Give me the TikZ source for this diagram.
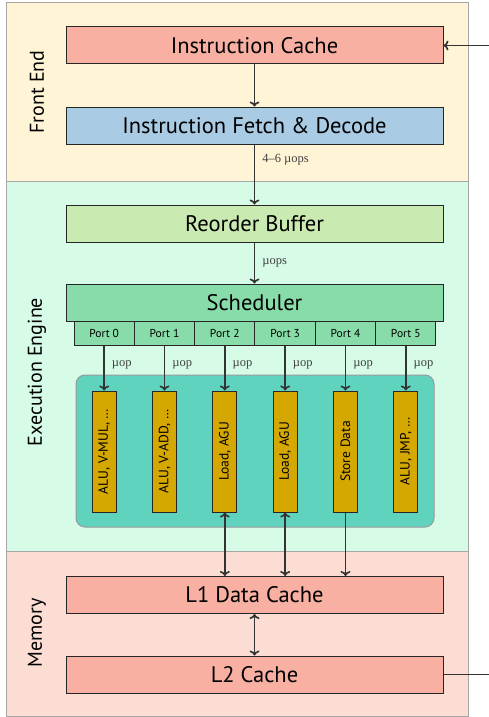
\documentclass[tikz,border=0pt]{standalone}
\usepackage{fontspec}
\setmainfont{PT Sans}
\newfontfamily\labfont{Liberation Serif}
\usetikzlibrary{arrows.meta}
\definecolor{bandFE}{HTML}{FFF5D6}
\definecolor{bandEX}{HTML}{D6FCE8}
\definecolor{bandMEM}{HTML}{FCDDD3}
\definecolor{cacheC}{HTML}{F8B0A3}
\definecolor{fetchC}{HTML}{A9CBE3}
\definecolor{robC}{HTML}{C9EAB0}
\definecolor{schedC}{HTML}{88DCA9}
\definecolor{clusterC}{HTML}{5FD3BE}
\definecolor{unitC}{HTML}{D4A800}
\definecolor{lineC}{HTML}{333333}
\tikzset{
  band/.style={draw=black!35, line width=1pt},
  bigbox/.style={draw=black!85, line width=1pt, minimum width=377pt, minimum height=37pt, inner sep=0pt, font=\fontsize{22.5}{25}\selectfont},
  portbox/.style={draw=black!85, line width=1pt, fill=schedC, minimum width=60.33pt, minimum height=24pt, inner sep=0pt, font=\fontsize{11.5}{13}\selectfont},
  unitbox/.style={draw=black!85, line width=1pt, fill=unitC, minimum width=24pt, minimum height=121pt, inner sep=0pt},
  unitlab/.style={rotate=90, font=\fontsize{13.5}{15}\selectfont},
  bandlab/.style={rotate=90, font=\fontsize{20}{23}\selectfont},
  conn/.style={draw=lineC, line width=1.6pt, -{To[length=5pt,width=10pt]}},
  biconn/.style={draw=lineC, line width=1.6pt, {To[length=5pt,width=10pt]}-{To[length=5pt,width=10pt]}},
  plain/.style={draw=lineC, line width=1.6pt},
  lab/.style={font=\labfont\fontsize{12.5}{14}\selectfont, text=black!75, anchor=west, inner sep=0pt, xshift=7pt},
}
\begin{document}
\begin{tikzpicture}[x=1pt,y=-1pt]
\useasboundingbox (0,0) rectangle (489,717);
% bands
\fill[bandFE] (6,3) rectangle (468,181);
\draw[band] (6,3) rectangle (468,181);
\fill[bandEX] (6,181) rectangle (468,551);
\draw[band] (6,181) rectangle (468,551);
\fill[bandMEM] (6,551) rectangle (468,716);
\draw[band] (6,551) rectangle (468,716);
\node[bandlab] (lfe) at (37,92) {Front End};
\node[bandlab] (lex) at (37,372) {Execution Engine};
\node[bandlab] (lmem) at (37,633) {Memory};
% front end
\node[bigbox, fill=cacheC] (ic) at (254.5,45.5) {Instruction Cache};
\node[bigbox, fill=fetchC] (ifd) at (254.5,125.5) {Instruction Fetch \& Decode};
% execution
\node[bigbox, fill=robC] (rob) at (254.5,223.5) {Reorder Buffer};
\node[bigbox, fill=schedC] (sch) at (254.5,302.5) {Scheduler};
\foreach \i in {0,...,5} {
  \node[portbox] (p\i) at ({74+30.17+60.33*\i},333) {Port \i};
}
\draw[draw=black!40, line width=1pt, fill=clusterC, rounded corners=9pt] (76,375) rectangle (434,527);
\node[unitbox] (u0) at ({74+30.17},451.5) {}; \node[unitlab] at (u0) {ALU, V-MUL, \dots};
\node[unitbox] (u1) at ({74+30.17+60.33},451.5) {}; \node[unitlab] at (u1) {ALU, V-ADD, \dots};
\node[unitbox] (u2) at ({74+30.17+60.33*2},451.5) {}; \node[unitlab] at (u2) {Load, AGU};
\node[unitbox] (u3) at ({74+30.17+60.33*3},451.5) {}; \node[unitlab] at (u3) {Load, AGU};
\node[unitbox] (u4) at ({74+30.17+60.33*4},451.5) {}; \node[unitlab] at (u4) {Store Data};
\node[unitbox] (u5) at ({74+30.17+60.33*5},451.5) {}; \node[unitlab] at (u5) {ALU, JMP, \dots};
% memory
\node[bigbox, fill=cacheC] (l1) at (254.5,595) {L1 Data Cache};
\node[bigbox, fill=cacheC] (l2) at (254.5,674.5) {L2 Cache};
% connectors
\coordinate (extin) at (489,45.5);
\coordinate (extout) at (489,674.5);
\draw[conn] (extin) -- (ic.east);
\draw[conn] (ic) -- (ifd);
\draw[conn] (ifd) -- node[lab, pos=0.26] {4–6 µops} (rob);
\draw[conn] (rob) -- node[lab] {µops} (sch);
\foreach \i in {0,...,5} {
  \draw[conn] (p\i.south) -- node[lab, pos=0.42] {µop} (u\i.north);
}
\draw[biconn] (u2.south) -- (u2.south |- l1.north);
\draw[biconn] (u3.south) -- (u3.south |- l1.north);
\draw[conn] (u4.south) -- (u4.south |- l1.north);
\draw[biconn] (l1) -- (l2);
\draw[plain] (l2.east) -- (extout);
\end{tikzpicture}
\end{document}
